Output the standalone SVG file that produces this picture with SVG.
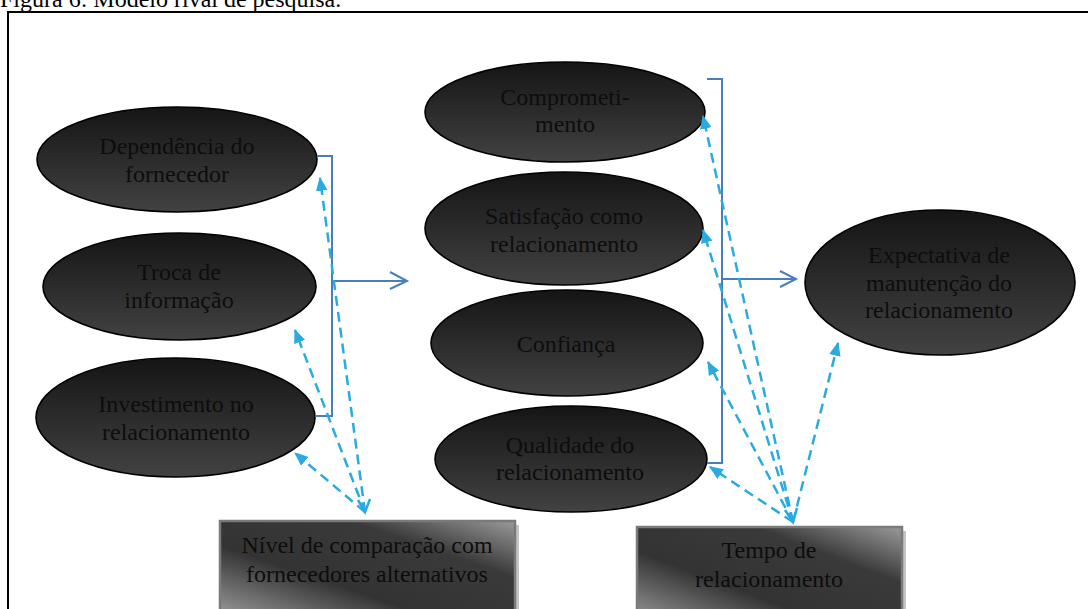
<svg xmlns="http://www.w3.org/2000/svg" width="1088" height="609" viewBox="0 0 1088 609">
  <defs>
    <linearGradient id="ellFill" x1="0" y1="0" x2="0" y2="1">
      <stop offset="0" stop-color="#151515"/>
      <stop offset="1" stop-color="#424242"/>
    </linearGradient>
    <linearGradient id="boxFill" x1="1" y1="0" x2="0" y2="1">
      <stop offset="0" stop-color="#9a9a9a"/>
      <stop offset="0.28" stop-color="#3a3a3a"/>
      <stop offset="0.62" stop-color="#333333"/>
      <stop offset="1" stop-color="#a0a0a0"/>
    </linearGradient>
    <marker id="tri" viewBox="0 0 12 10" refX="11" refY="5" markerUnits="userSpaceOnUse" markerWidth="14" markerHeight="12" orient="auto">
      <path d="M0,0 L12,5 L0,10 z" fill="#29abe2"/>
    </marker>
    <marker id="vee" viewBox="0 0 12 12" refX="11" refY="6" markerUnits="userSpaceOnUse" markerWidth="12" markerHeight="12" orient="auto-start-reverse">
      <path d="M1,1 L11,6 L1,11" fill="none" stroke="#29abe2" stroke-width="2"/>
    </marker>
  </defs>
  <style>
    .ell { fill: url(#ellFill); stroke: #000; stroke-width: 1.6; }
    .box { fill: url(#boxFill); stroke: #7a7a7a; stroke-width: 2.5; }
    .shadow { fill: #c4c4c4; }
    .lbl { font-family: "Liberation Serif", "Times New Roman", serif; font-size: 24px; fill: #0d0d0d; text-anchor: middle; }
    .title { font-family: "Liberation Serif", "Times New Roman", serif; font-size: 24px; fill: #000; }
    .solid { fill: none; stroke: #4a7ebb; stroke-width: 2; }
    .dash { fill: none; stroke: #29abe2; stroke-width: 2.5; stroke-dasharray: 10 6; marker-end: url(#tri); }
  </style>

  <rect width="1088" height="609" fill="#fff"/>
  <text class="title" x="0" y="7">Figura 6: Modelo rival de pesquisa.</text>
  <rect x="8" y="12" width="1100" height="700" fill="none" stroke="#000" stroke-width="2"/>

  <!-- antecedents -->
  <g id="dependencia">
    <ellipse class="ell" cx="177" cy="159.5" rx="140" ry="52.5"/>
    <text class="lbl" x="177" y="154">Dependência do</text>
    <text class="lbl" x="177" y="182">fornecedor</text>
  </g>
  <g id="troca">
    <ellipse class="ell" cx="179.5" cy="286.5" rx="136.5" ry="53.5"/>
    <text class="lbl" x="179" y="280">Troca de</text>
    <text class="lbl" x="179" y="308">informação</text>
  </g>
  <g id="investimento">
    <ellipse class="ell" cx="175.5" cy="417.5" rx="139.5" ry="59.5"/>
    <text class="lbl" x="176" y="412">Investimento no</text>
    <text class="lbl" x="176" y="440">relacionamento</text>
  </g>

  <!-- relationship constructs -->
  <g id="comprometimento">
    <ellipse class="ell" cx="565" cy="112" rx="140" ry="50"/>
    <text class="lbl" x="565" y="105">Comprometi-</text>
    <text class="lbl" x="565" y="132">mento</text>
  </g>
  <g id="satisfacao">
    <ellipse class="ell" cx="564" cy="228.5" rx="139" ry="56.5"/>
    <text class="lbl" x="564" y="224">Satisfação como</text>
    <text class="lbl" x="564" y="252">relacionamento</text>
  </g>
  <g id="confianca">
    <ellipse class="ell" cx="567" cy="343" rx="136" ry="53"/>
    <text class="lbl" x="566" y="352">Confiança</text>
  </g>
  <g id="qualidade">
    <ellipse class="ell" cx="571" cy="459" rx="136" ry="53"/>
    <text class="lbl" x="570" y="453">Qualidade do</text>
    <text class="lbl" x="570" y="480">relacionamento</text>
  </g>

  <!-- outcome -->
  <g id="expectativa">
    <ellipse class="ell" cx="940" cy="282.5" rx="135" ry="72.5"/>
    <text class="lbl" x="939" y="263">Expectativa de</text>
    <text class="lbl" x="939" y="291">manutenção do</text>
    <text class="lbl" x="939" y="318">relacionamento</text>
  </g>

  <!-- moderators -->
  <g id="nivel">
    <rect class="shadow" x="224" y="525" width="295" height="100"/>
    <rect class="box" x="220" y="521" width="295" height="100"/>
    <text class="lbl" x="367" y="553">Nível de comparação com</text>
    <text class="lbl" x="367" y="582">fornecedores alternativos</text>
  </g>
  <g id="tempo">
    <rect class="shadow" x="641" y="531" width="265" height="100"/>
    <rect class="box" x="637" y="527" width="265" height="100"/>
    <text class="lbl" x="769" y="558">Tempo de</text>
    <text class="lbl" x="769" y="587">relacionamento</text>
  </g>

  <g id="connectors">
    <!-- brackets grouping constructs, with open arrows -->
    <path class="solid" d="M317,156 H332 V416 H315"/>
    <path class="solid" d="M332,281 H407 M390,272 L407,281 L390,289"/>
    <path class="solid" d="M707,79 H722 V463 H707"/>
    <path class="solid" d="M722,279 H796 M780,271 L796,279 L780,287"/>

    <!-- moderator influences -->
    <path class="dash" d="M365,512 L320,178"/>
    <path class="dash" d="M365,512 L295,330"/>
    <path class="dash" d="M365,512 L295,453"/>
    <path d="M358,500 L365,512 L370,499" fill="none" stroke="#29abe2" stroke-width="2.5"/>

    <path class="dash" d="M793,522 L703,116"/>
    <path class="dash" d="M793,522 L703,230"/>
    <path class="dash" d="M793,522 L708,362"/>
    <path class="dash" d="M793,522 L710,467"/>
    <path class="dash" d="M793,522 L838,343"/>
    <path d="M785,510 L793,522 L797,508" fill="none" stroke="#29abe2" stroke-width="2.5"/>
  </g>
</svg>
